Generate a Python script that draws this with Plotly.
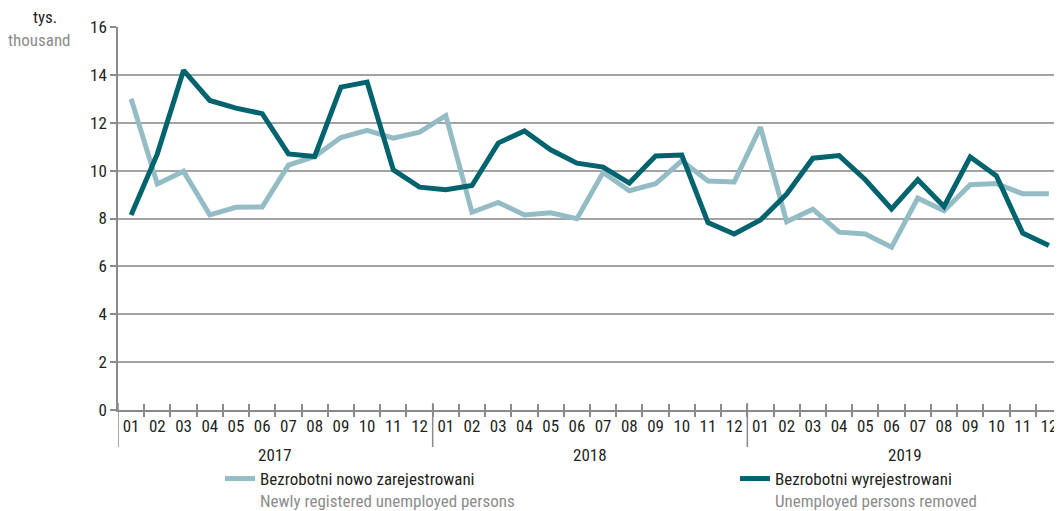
import plotly.graph_objects as go

months = ["01", "02", "03", "04", "05", "06", "07", "08", "09", "10", "11", "12"]
years = ["2017", "2018", "2019"]

newly_registered = [13.0, 9.44, 9.97, 8.15, 8.47, 8.48, 10.23, 10.59, 11.38, 11.68, 11.36, 11.61,
                    12.3, 8.26, 8.67, 8.15, 8.24, 7.99, 9.92, 9.16, 9.45, 10.41, 9.57, 9.53,
                    11.82, 7.87, 8.39, 7.43, 7.35, 6.8, 8.85, 8.32, 9.41, 9.46, 9.03, 9.03]
removed = [8.15, 10.7, 14.19, 12.93, 12.61, 12.38, 10.7, 10.59, 13.49, 13.7, 10.03, 9.31,
           9.2, 9.38, 11.15, 11.66, 10.87, 10.31, 10.15, 9.48, 10.61, 10.65, 7.83, 7.35,
           7.94, 9.02, 10.52, 10.63, 9.62, 8.4, 9.62, 8.5, 10.57, 9.78, 7.39, 6.87]

GRAYTXT = "#8c8c8c"
name_new = f"Bezrobotni nowo zarejestrowani<br><span style='color:{GRAYTXT}'>Newly registered unemployed persons</span>"
name_rem = f"Bezrobotni wyrejestrowani<br><span style='color:{GRAYTXT}'>Unemployed persons removed</span>"

FONT = "Roboto Condensed, DejaVu Sans Condensed, sans-serif"
TXT = "#231f20"
LIGHT = "#93bcc4"
DARK = "#00636d"
GRID = "#a3a3a3"
AXIS = "#8a8a8a"
FS = 17

# the page body has an 8px default margin, so the figure is drawn at (8, 8)
OFF = 8
W, H = 1062 - OFF, 511 - OFF
L, R, T, B = 118 - OFF, 0, 27 - OFF, 101
pw, ph = W - L - R, H - T - B


def px(x):  # screen x -> paper
    return (x - OFF - L) / pw


def py(y):  # screen y -> paper
    return (H - B - (y - OFF)) / ph


n = len(months) * len(years)
xs = list(range(n))
labels = [m for y in years for m in months]
dividers = [i + 0.5 for i in range(n - 1)]

fig = go.Figure()
fig.add_trace(go.Scatter(x=xs, y=newly_registered, mode="lines", name=name_new, legend="legend",
                         line=dict(color=LIGHT, width=5)))
fig.add_trace(go.Scatter(x=xs, y=removed, mode="lines", name=name_rem, legend="legend2",
                         xaxis="x2", line=dict(color=DARK, width=5)))

# year dividers (and y-axis extension) below the axis
for k in range(len(years)):
    fig.add_shape(type="line", xref="x", yref="paper", x0=k * 12 - 0.5, x1=k * 12 - 0.5,
                  y0=py(403), y1=py(447), line=dict(color=AXIS, width=1.5), layer="above")
# year labels
for k, yr in enumerate(years):
    fig.add_annotation(x=k * 12 + 5.5, y=py(455), xref="x", yref="paper", text=yr,
                       showarrow=False, yanchor="middle", font=dict(size=FS, color=TXT))

fig.add_annotation(x=px(59), y=py(17), xref="paper", yref="paper", text="tys.", showarrow=False,
                   xanchor="right", yanchor="middle", font=dict(size=FS, color=TXT))
fig.add_annotation(x=px(73), y=py(40), xref="paper", yref="paper", text="thousand", showarrow=False,
                   xanchor="right", yanchor="middle", font=dict(size=FS, color=GRAYTXT))

leg_common = dict(orientation="v", xanchor="left", yanchor="top", valign="top",
                  font=dict(size=FS, color=TXT), bgcolor="rgba(0,0,0,0)", itemclick=False,
                  itemwidth=30)

fig.update_layout(
    width=W, height=H,
    margin=dict(l=L, r=R, t=T, b=B, autoexpand=False),
    paper_bgcolor="white", plot_bgcolor="white",
    font=dict(family=FONT, size=FS, color=TXT),
    showlegend=True,
    legend=dict(x=px(220), y=py(461), **leg_common),
    legend2=dict(x=px(735), y=py(461), **leg_common),
    xaxis=dict(range=[-0.5, n - 0.5], tickmode="array", tickvals=xs, ticktext=labels,
               ticks="", showgrid=False, zeroline=False, showline=True, linecolor=AXIS,
               linewidth=1.5, tickfont=dict(size=FS, color=TXT),
               minor=dict(tickmode="array", tickvals=dividers,
                          ticks="outside", ticklen=5, tickcolor=AXIS, tickwidth=1.5, showgrid=False)),
    xaxis2=dict(range=[-0.5, n - 0.5], matches="x", overlaying="x", anchor="y", side="bottom",
                tickmode="array", tickvals=dividers, showticklabels=False,
                ticks="inside", ticklen=6, tickcolor=AXIS, tickwidth=1.5,
                showgrid=False, zeroline=False, showline=False),
    yaxis=dict(range=[0, 16], tickmode="array", tickvals=list(range(0, 17, 2)),
               showgrid=True, gridcolor=GRID, gridwidth=1.5, zeroline=False,
               showline=True, linecolor=AXIS, linewidth=1.5,
               ticks="outside", ticklen=6, tickcolor=AXIS, tickwidth=1.5,
               tickfont=dict(size=FS, color=TXT)),
)

fig.write_html("out.html")
